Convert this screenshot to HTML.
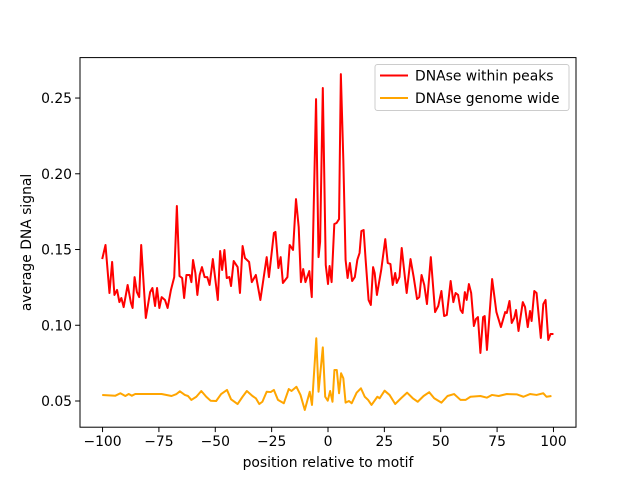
<!DOCTYPE html>
<html><head><meta charset="utf-8"><style>
body{margin:0;background:#fff}
svg{display:block;font-family:"DejaVu Sans","Liberation Sans",sans-serif}
</style></head><body>
<svg id="chart" width="640" height="480"></svg>
<script>
const peakX=[-100.15,-98.69,-96.93,-95.75,-94.73,-93.56,-92.53,-91.65,-90.63,-88.87,-87.4,-86.67,-85.79,-84.76,-83.74,-82.86,-80.81,-78.9,-77.88,-76.71,-75.83,-74.8,-73.78,-72.31,-71.14,-69.67,-68.21,-67.04,-65.86,-64.69,-63.81,-62.79,-61.32,-60.59,-59.86,-58.83,-57.95,-56.93,-55.9,-54.73,-53.56,-52.53,-51.07,-48.87,-47.84,-46.96,-45.94,-44.91,-43.74,-43.01,-41.83,-40.08,-39.05,-37.88,-36.85,-35,-33.8,-32,-30,-27.2,-26.2,-24,-23.3,-22,-21,-20,-18,-17,-15.5,-14.2,-13,-12,-11,-10,-8.3,-7.2,-5.3,-4.2,-3.5,-2.3,-1,0,0.7,1.6,2.8,3.8,4.9,5.7,6.8,7.8,8.7,9.7,10.7,11.9,13,14,14.8,15.8,16.7,18,19,20,20.7,21.7,23.6,25.4,26.5,27.7,28.7,29.8,30.5,31.7,32.7,33.9,34.9,36.6,38,39.5,40.5,41.5,42.7,43.9,45.6,47.5,48.9,50.3,51.5,52.7,54.4,55.6,56.6,57.7,58.8,59.7,60.7,61.5,62.5,63.5,64.7,65.6,66.5,67.6,68.8,69.5,70.5,72.8,74.7,76.7,78.6,79.3,80.5,81.5,82.6,83.4,84.5,86.4,87.4,88.6,89.6,90.3,91.5,92.5,94.4,95.5,96.5,97.7,98.7,100];
const peakY=[0.1437,0.153,0.1213,0.1418,0.12,0.1233,0.1153,0.118,0.112,0.1266,0.1147,0.1114,0.1318,0.1219,0.1186,0.153,0.1048,0.1219,0.1246,0.1127,0.1246,0.1114,0.1186,0.1167,0.1114,0.1233,0.1318,0.1787,0.1325,0.1312,0.118,0.1332,0.1332,0.1285,0.1431,0.1345,0.12,0.1332,0.1384,0.1318,0.1318,0.1266,0.1437,0.1167,0.149,0.1365,0.1497,0.1312,0.1318,0.1259,0.1424,0.1384,0.1213,0.1523,0.1444,0.1418,0.1285,0.1332,0.1167,0.145,0.1318,0.1609,0.1616,0.1378,0.145,0.1279,0.1318,0.153,0.1497,0.1833,0.1649,0.1285,0.1371,0.1285,0.1358,0.1186,0.2493,0.145,0.155,0.2566,0.1398,0.1272,0.1391,0.1285,0.1668,0.1675,0.1701,0.2658,0.2091,0.1431,0.1312,0.1411,0.1292,0.1318,0.1431,0.1477,0.1622,0.1629,0.1431,0.1167,0.1134,0.1384,0.1345,0.12,0.1365,0.1569,0.1411,0.1404,0.1266,0.1345,0.1279,0.1318,0.151,0.1345,0.1213,0.1437,0.1318,0.1173,0.1186,0.1332,0.1266,0.114,0.145,0.1087,0.1127,0.1226,0.1061,0.1068,0.1292,0.1153,0.1213,0.12,0.1101,0.1081,0.1219,0.1167,0.1272,0.1213,0.0995,0.1041,0.1054,0.0817,0.1054,0.1061,0.0837,0.1305,0.1087,0.0988,0.1087,0.1081,0.116,0.1015,0.1048,0.1101,0.0962,0.1153,0.112,0.0988,0.1094,0.1028,0.1226,0.1213,0.0916,0.114,0.1167,0.0903,0.0942,0.0942];
const genomeX=[-100.15,-94.3,-92.1,-89.9,-88.4,-87,-85.5,-82.6,-73.8,-69.4,-67.2,-65.7,-63.5,-62.1,-60.6,-58.4,-56.2,-54,-52.1,-49.6,-47.4,-44.8,-43,-40.1,-37.9,-36,-33.5,-32,-30.5,-29.1,-27.2,-25.4,-24,-22.2,-19.6,-17.4,-16.2,-14,-12.2,-10.3,-8.1,-7.1,-5.2,-4.2,-2.3,-1.25,-0.1,0.95,2,2.85,3.9,4.9,5.8,6.8,7.8,9.3,10.5,12.7,14.6,16.3,17.8,19.3,21.9,22.9,25.1,27.3,29.8,32.4,35.1,37.6,39.8,42.4,44.9,47.1,50.3,53,55.9,58.8,61,63.2,67.6,70.5,72.7,75.7,79.3,83.7,86.7,89.6,92.5,95.5,96.9,99.1];
const genomeY=[0.054,0.0535,0.0551,0.0533,0.0546,0.0535,0.0546,0.0546,0.0546,0.0533,0.0546,0.0564,0.054,0.0533,0.0507,0.0528,0.0566,0.0528,0.0502,0.05,0.0546,0.0573,0.0511,0.048,0.0528,0.0566,0.0533,0.0518,0.048,0.0495,0.0561,0.0559,0.0573,0.0507,0.0485,0.0579,0.0566,0.0594,0.054,0.0441,0.0561,0.0474,0.0914,0.0561,0.0854,0.0528,0.0502,0.0566,0.0495,0.0705,0.0705,0.0551,0.0683,0.065,0.0489,0.05,0.0485,0.0555,0.0584,0.0528,0.0507,0.0474,0.0528,0.0518,0.0568,0.054,0.048,0.0518,0.0555,0.0518,0.0495,0.0533,0.0558,0.0518,0.0489,0.0533,0.0546,0.0507,0.0507,0.0528,0.0533,0.0522,0.054,0.0533,0.0546,0.0544,0.0528,0.0546,0.054,0.0551,0.0528,0.0533];
const xTicks=[-100,-75,-50,-25,0,25,50,75,100];
const yTicks=[0.05,0.10,0.15,0.20,0.25];
const yTickLabels=["0.05","0.10","0.15","0.20","0.25"];

const L=80,R=576,T=57.6,B=427.2;
const xMin=-110,xMax=110,yMin=0.0327,yMax=0.2767;
const FS='13.9px';
const sx=v=>L+(v-xMin)/(xMax-xMin)*(R-L);
const sy=v=>B-(v-yMin)/(yMax-yMin)*(B-T);
const svg=document.getElementById('chart');
const NS='http://www.w3.org/2000/svg';
function mk(tag,attrs,parent){const e=document.createElementNS(NS,tag);for(const k in attrs)e.setAttribute(k,attrs[k]);(parent||svg).appendChild(e);return e;}

function series(xs,ys,color,name){
  const d=xs.map((x,i)=>(i?'L':'M')+sx(x).toFixed(2)+','+sy(ys[i]).toFixed(2)).join('');
  const p=mk('path',{d:d,fill:'none',stroke:color,'stroke-width':2,'stroke-linejoin':'round'});
  
  
}
series(genomeX,genomeY,'#ffa500','genome-wide-line');
series(peakX,peakY,'#ff0000','within-peaks-line');

const frame=mk('rect',{x:L,y:T,width:R-L,height:B-T,fill:'none',stroke:'#000','stroke-width':1});



xTicks.forEach(t=>{
  const x=sx(t);
  const tk=mk('line',{x1:x,x2:x,y1:B,y2:B+4.9,stroke:'#000','stroke-width':1});
  
  
  const tx=mk('text',{x:x,y:B+19,'text-anchor':'middle','font-size':FS});
  tx.textContent=(t<0?'\u2212'+(-t):t);
  
  
});
yTicks.forEach((t,i)=>{
  const y=sy(t);
  const tk=mk('line',{x1:L-4.9,x2:L,y1:y,y2:y,stroke:'#000','stroke-width':1});
  
  
  const tx=mk('text',{x:L-8,y:y+5,'text-anchor':'end','font-size':FS});
  tx.textContent=yTickLabels[i];
  
  
});
const xl=mk('text',{x:(L+R)/2,y:467,'text-anchor':'middle','font-size':FS});
xl.textContent='position relative to motif';


const yl=mk('text',{x:0,y:0,'text-anchor':'middle','font-size':FS,transform:'translate(31,'+((T+B)/2)+') rotate(-90)'});
yl.textContent='average DNA signal';



const lg=mk('g',{});


mk('rect',{x:375,y:64.5,width:194,height:46,rx:2.5,fill:'#fff','fill-opacity':0.8,stroke:'#ccc','stroke-width':1},lg);
const entries=[['DNAse within peaks','#ff0000',75.5],['DNAse genome wide','#ffa500',98]];
entries.forEach(e=>{
  const g=mk('g',{},lg);
  
  
  mk('line',{x1:380,x2:408,y1:e[2],y2:e[2],stroke:e[1],'stroke-width':2},g);
  const t=mk('text',{x:415,y:e[2]+5,'font-size':FS},g);
  t.textContent=e[0];
});
</script>
</body></html>
